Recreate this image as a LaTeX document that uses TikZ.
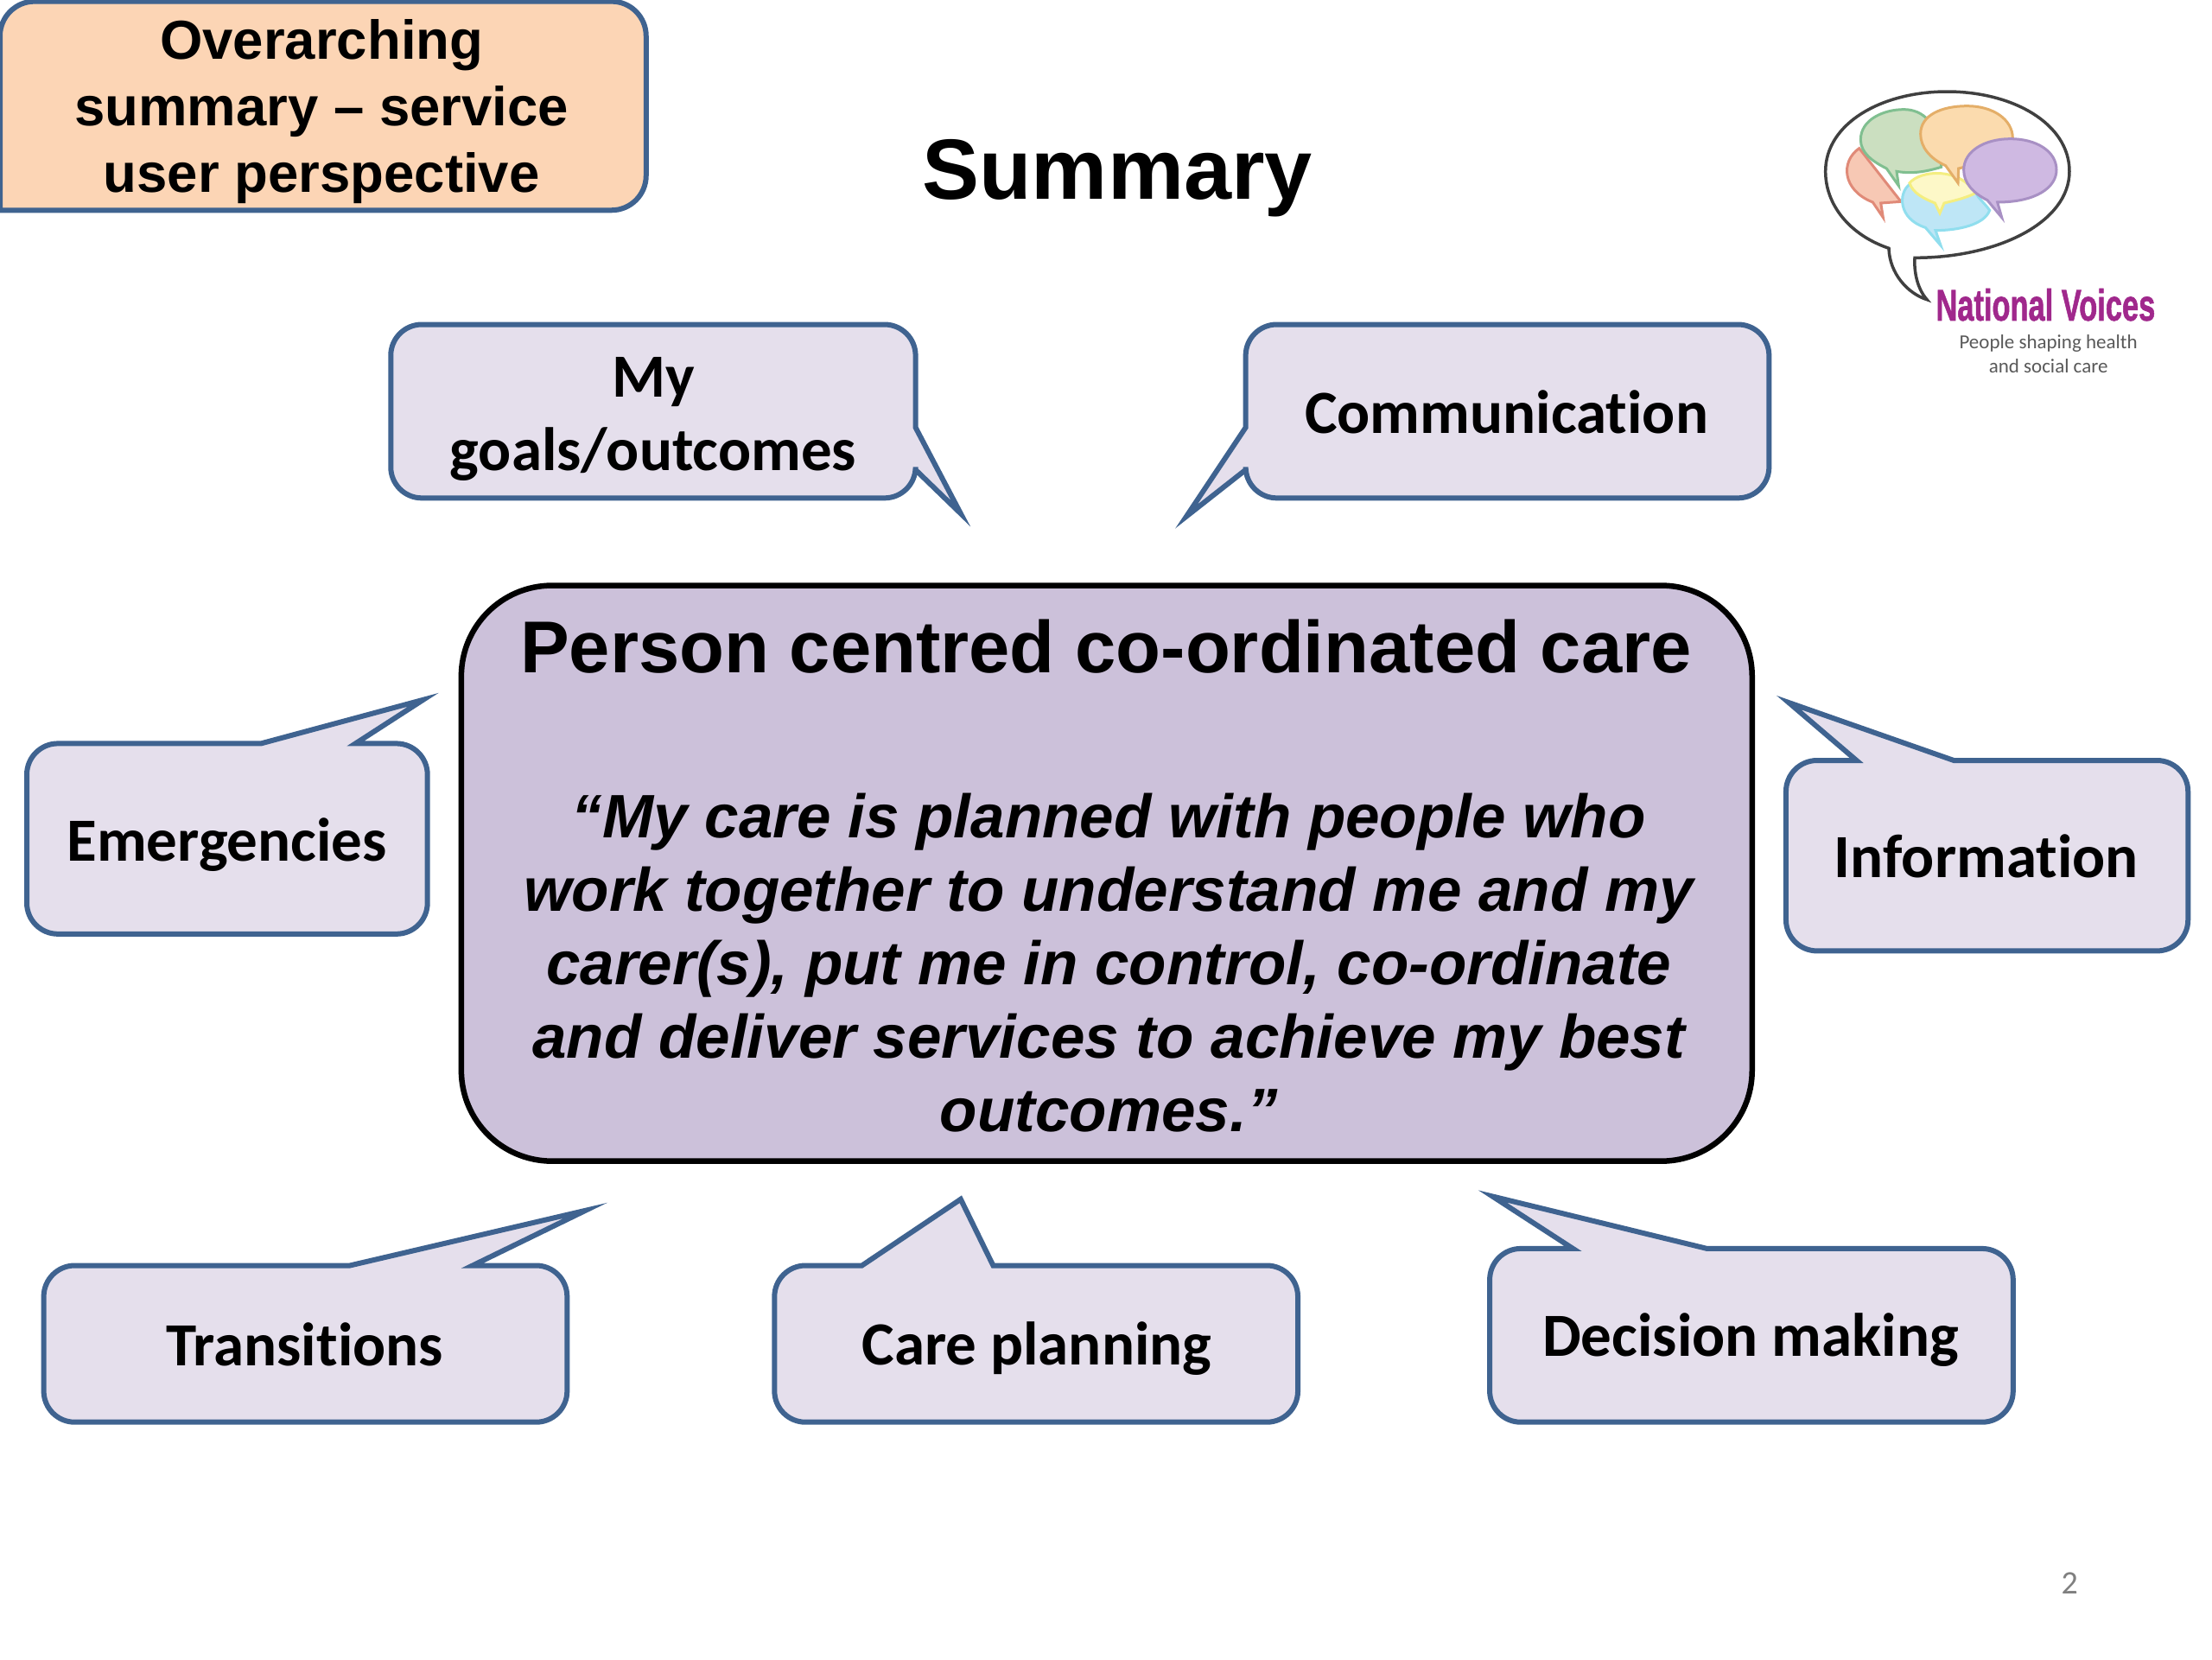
\documentclass[tikz,border=0pt]{standalone}
\usepackage{fontspec}
\setmainfont{Liberation Sans}
\newfontfamily\calib[Ligatures=NoCommon]{Carlito}
\newfontfamily\nvfont[FakeBold=1.5]{Liberation Sans Bold}
\definecolor{edgeblue}{HTML}{3F6390}
\definecolor{pale}{HTML}{E5DFEC}
\definecolor{mid}{HTML}{CCC1DA}
\definecolor{peach}{HTML}{FCD5B5}
\definecolor{nvpurple}{HTML}{A0288C}
\newcommand\cBR[2]{-- (#1,#2-22) arc[start angle=0,end angle=90,radius=22]}
\newcommand\cBL[2]{-- (#1+22,#2) arc[start angle=90,end angle=180,radius=22]}
\newcommand\cTL[2]{-- (#1,#2+22) arc[start angle=180,end angle=270,radius=22]}
\newcommand\cTR[2]{-- (#1-22,#2) arc[start angle=270,end angle=360,radius=22]}
\tikzset{
 cbox/.style={draw=edgeblue,fill=pale,line width=6pt,line join=miter,miter limit=20},
 cal/.style={font=\calib\bfseries\fontsize{71}{85}\selectfont,align=center,text=black,inner sep=0pt},
 arialb/.style={font=\bfseries\fontsize{#1}{#1}\selectfont,inner sep=0pt,text=black},
 lg/.style={line width=3pt},
}
\begin{document}
\begin{tikzpicture}[x=1.63265pt,y=-1.63265pt]
\useasboundingbox (0,0) rectangle (1568,1176);
% top-left tag
\draw[draw=edgeblue,fill=peach,line width=6pt] (0,149) -- (0,100) [rounded corners=40pt] -- (0,1) -- (458,1) -- (458,149) -- (100,149) [sharp corners] -- cycle;
\node[align=center,inner sep=0pt,font=\bfseries\fontsize{63.5}{77}\selectfont] (tag) at (228,79) {Overarching\\summary -- service\\user perspective};
% title
\node[arialb=99] (title) at (792,126) {Summary};
% centre
\draw[draw=black,fill=mid,line width=6.5pt,rounded corners=105pt] (327,415) rectangle (1242,823);
\node[arialb=85] (head) at (784,458) {Person centred co-ordinated care};
\node[align=center,inner sep=0pt,font=\bfseries\itshape\fontsize{71}{85}\selectfont] (quote) at (786,682.5) {“My care is planned with people who\\work together to understand me and my\\carer(s), put me in control, co-ordinate\\and deliver services to achieve my best\\outcomes.”};
% callouts
\draw[cbox] (681,364) -- (649,333) \cBR{649}{353} \cBL{277}{353} \cTL{277}{230} \cTR{649}{230} -- (649,303) -- cycle;
\node[cal] (goals) at (463,297) {My\\goals/outcomes};
\draw[cbox] (841,366) -- (883,303) \cTL{883}{230} \cTR{1254}{230} \cBR{1254}{353} \cBL{883}{353} -- (883,333) -- cycle;
\node[cal] (comm) at (1068,292) {Communication};
\draw[cbox] (300,496) -- (252,527) \cTR{303}{527} \cBR{303}{662} \cBL{19}{662} \cTL{19}{527} -- (185,527) -- cycle;
\node[cal] (emer) at (161,599) {Emergencies};
\draw[cbox] (1268,498) -- (1385,539) \cTR{1551}{539} \cBR{1551}{674} \cBL{1266}{674} \cTL{1266}{539} -- (1316,539) -- cycle;
\node[cal] (info) at (1408,607) {Information};
\draw[cbox] (415,858) -- (335,897) \cTR{402}{897} \cBR{402}{1008} \cBL{31}{1008} \cTL{31}{897} -- (248,897) -- cycle;
\node[cal] (trans) at (216,953) {Transitions};
\draw[cbox] (681,850) -- (704,897) \cTR{920}{897} \cBR{920}{1008} \cBL{549}{1008} \cTL{549}{897} -- (611,897) -- cycle;
\node[cal] (care) at (735,956) {Care planning};
\draw[cbox] (1058,848) -- (1210,885) \cTR{1427}{885} \cBR{1427}{1008} \cBL{1056}{1008} \cTL{1056}{885} -- (1115,885) -- cycle;
\node[cal] (dec) at (1241,950) {Decision making};
% page number
\node[font=\calib\fontsize{38}{38}\selectfont,text=black!50,inner sep=0pt] (pg) at (1467,1122) {2};
% logo
\begin{scope}[shift={(2080pt,-80pt)},x=0.3333pt,y=-0.3333pt]
\draw[draw=black!75,line width=3.5pt,fill=white] (318,622) .. controls (180,575) and (98,470) .. (98,355) .. controls (98,190) and (290,78) .. (520,78) .. controls (750,78) and (945,190) .. (945,355) .. controls (945,530) and (700,655) .. (408,655) .. controls (405,700) and (415,760) .. (450,800) .. controls (385,780) and (320,710) .. (318,622) -- cycle;
\definecolor{lr}{HTML}{E08A78}\definecolor{fr}{HTML}{F7C8B4}
\definecolor{lgn}{HTML}{80BF90}\definecolor{fg}{HTML}{CBDFC0}
\definecolor{ly}{HTML}{F4EE80}\definecolor{fy}{HTML}{FDF8C8}
\definecolor{lc}{HTML}{90DEEE}\definecolor{fc}{HTML}{BEE6F6}
\definecolor{lo}{HTML}{E4AE68}\definecolor{fo}{HTML}{FBDBAE}
\definecolor{lp}{HTML}{A890C4}\definecolor{fp}{HTML}{CFB9E2}
\draw[lg,draw=lr,fill=fr] (215,275) .. controls (150,320) and (155,420) .. (262,462) -- (298,515) -- (290,465) -- (360,460) -- cycle;
\draw[lg,draw=lgn,fill=fg] (220,245) .. controls (220,175) and (300,140) .. (370,140) .. controls (430,140) and (500,180) .. (500,340) .. controls (450,355) and (400,365) .. (345,355) -- (352,405) -- (310,345) .. controls (260,320) and (220,290) .. (220,245) -- cycle;
\draw[lg,draw=lc,fill=fc] (390,400) .. controls (350,430) and (350,520) .. (445,550) -- (498,612) -- (480,560) .. controls (560,560) and (650,540) .. (668,490) .. controls (650,465) and (630,450) .. (620,430) -- cycle;
\draw[lg,draw=ly,fill=fy] (390,395) .. controls (430,350) and (560,340) .. (620,430) .. controls (580,450) and (530,460) .. (510,465) -- (495,500) -- (478,465) .. controls (440,450) and (400,430) .. (390,395) -- cycle;
\draw[lg,draw=lo,fill=fo] (428,225) .. controls (428,160) and (500,128) .. (590,128) .. controls (680,128) and (748,175) .. (748,240) -- (580,340) -- (560,345) -- (558,395) -- (515,335) .. controls (460,310) and (428,270) .. (428,225) -- cycle;
\draw[lg,draw=lp,fill=fp] (578,350) .. controls (578,285) and (650,242) .. (740,242) .. controls (830,242) and (900,285) .. (900,350) .. controls (900,410) and (830,462) .. (695,462) -- (710,515) -- (660,455) .. controls (610,430) and (578,395) .. (578,350) -- cycle;
\end{scope}
\node[font=\nvfont\fontsize{51}{51}\selectfont,text=nvpurple,inner sep=0pt,xscale=0.675] (nv) at (1450,216) {National Voices};
\node[font=\calib\fontsize{23}{28}\selectfont,align=center,text=black!65,inner sep=0pt] (nvsub) at (1452,251) {People shaping health\\and social care};
\end{tikzpicture}
\end{document}
